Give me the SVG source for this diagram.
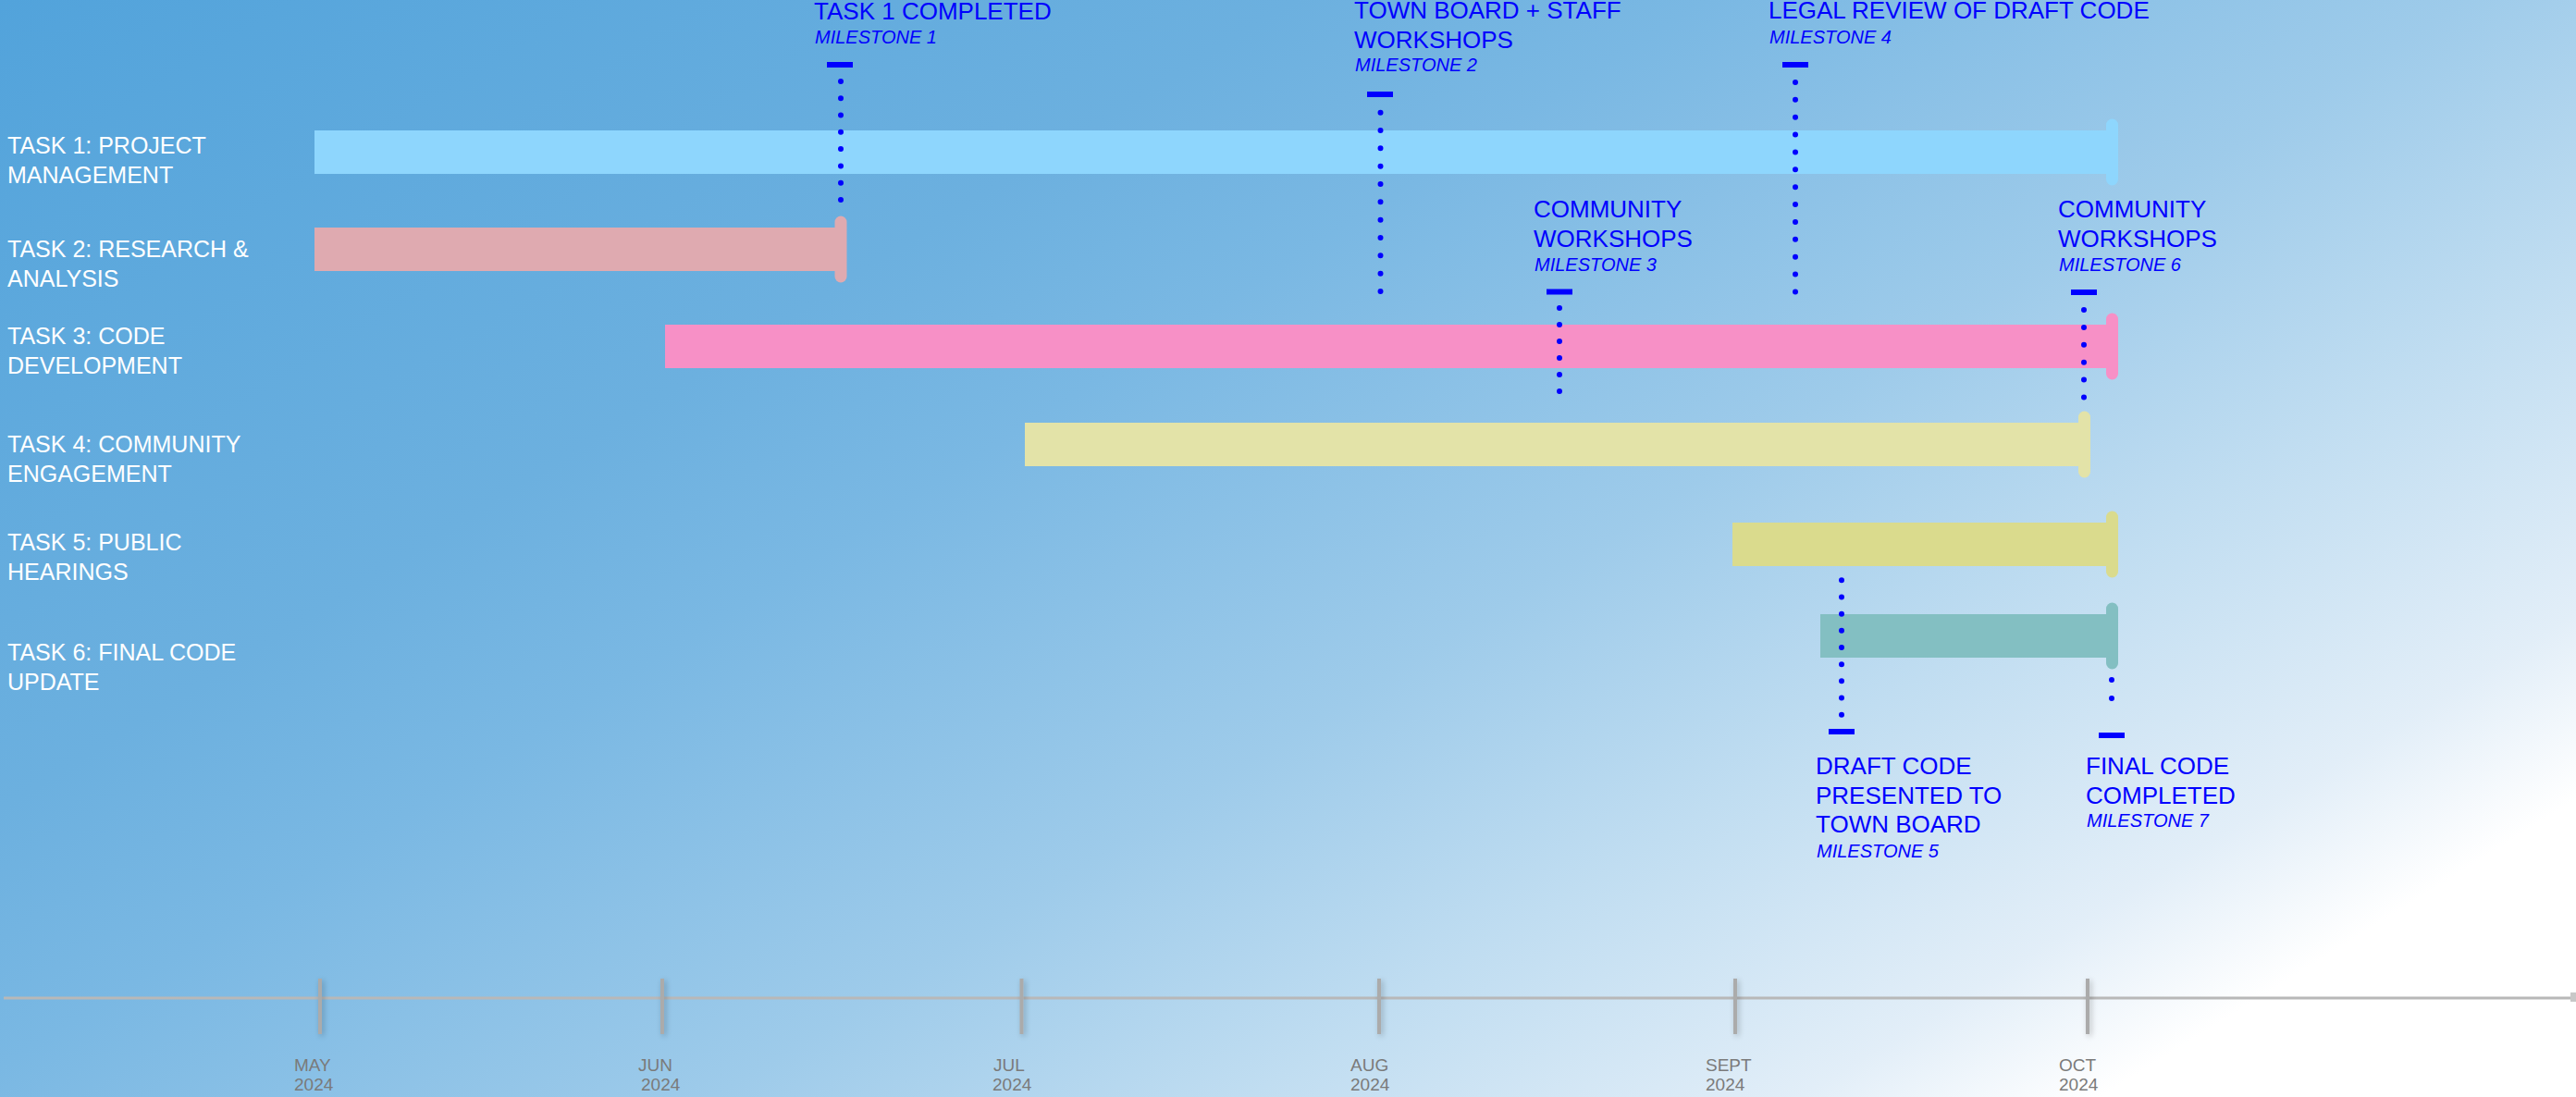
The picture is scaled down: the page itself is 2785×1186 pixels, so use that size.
<svg xmlns="http://www.w3.org/2000/svg" width="2785" height="1186" viewBox="0 0 2785 1186">
<defs>
<linearGradient id="bg" gradientUnits="userSpaceOnUse" x1="0" y1="0" x2="1315" y2="2105">
<stop offset="0" stop-color="#52a3db"/>
<stop offset="0.299" stop-color="#6cb0df"/>
<stop offset="0.394" stop-color="#7ab8e3"/>
<stop offset="0.57" stop-color="#9ecbea"/>
<stop offset="0.693" stop-color="#c0ddf1"/>
<stop offset="0.821" stop-color="#e2eef8"/>
<stop offset="0.89" stop-color="#ffffff"/>
<stop offset="1" stop-color="#ffffff"/>
</linearGradient>
<filter id="soft" x="-50%" y="-20%" width="200%" height="140%">
<feGaussianBlur in="SourceAlpha" stdDeviation="3"/>
<feOffset dx="2" dy="2" result="b"/>
<feComponentTransfer><feFuncA type="linear" slope="0.25"/></feComponentTransfer>
<feMerge><feMergeNode/><feMergeNode in="SourceGraphic"/></feMerge>
</filter>
</defs>
<style>
.lbl{font-family:"Liberation Sans",Arial,sans-serif;font-size:25px;fill:#ffffff}
.mt{font-family:"Liberation Sans",Arial,sans-serif;font-size:26px;fill:#0000ff}
.ms{font-family:"Liberation Sans",Arial,sans-serif;font-size:20px;font-style:italic;fill:#0000ff}
.ax{font-family:"Liberation Sans",Arial,sans-serif;font-size:19px;fill:#7a7a7a}
.dot{stroke:#0000ff;stroke-width:6;stroke-linecap:round;fill:none}
.dash{fill:#0000ff}
.tick{stroke:#ababab;stroke-width:4}
</style>
<rect x="0" y="0" width="2785" height="1186" fill="url(#bg)"/>

<g id="axis">
<line x1="4" y1="1079" x2="2780" y2="1079" stroke="#b8b8b8" stroke-width="3"/>
<rect x="2779" y="1073" width="6" height="10" fill="#c8c8c8"/>
<g filter="url(#soft)">
<line class="tick" x1="346" y1="1058" x2="346" y2="1118"/>
<line class="tick" x1="716" y1="1058" x2="716" y2="1118"/>
<line class="tick" x1="1104.5" y1="1058" x2="1104.5" y2="1118"/>
<line class="tick" x1="1491" y1="1058" x2="1491" y2="1118"/>
<line class="tick" x1="1876" y1="1058" x2="1876" y2="1118"/>
<line class="tick" x1="2257" y1="1058" x2="2257" y2="1118"/>
</g>
<text class="ax" x="318" y="1158">MAY</text><text class="ax" x="318" y="1179">2024</text>
<text class="ax" x="690" y="1158">JUN</text><text class="ax" x="693" y="1179">2024</text>
<text class="ax" x="1074" y="1158">JUL</text><text class="ax" x="1073" y="1179">2024</text>
<text class="ax" x="1460" y="1158">AUG</text><text class="ax" x="1460" y="1179">2024</text>
<text class="ax" x="1844" y="1158">SEPT</text><text class="ax" x="1844" y="1179">2024</text>
<text class="ax" x="2226" y="1158">OCT</text><text class="ax" x="2226" y="1179">2024</text>
</g>

<g id="task1">
<text class="lbl" x="8" y="166">TASK 1: PROJECT</text>
<text class="lbl" x="8" y="198">MANAGEMENT</text>
<rect x="340" y="141" width="1940" height="47" fill="#8ed6fd"/>
<rect x="2277" y="128.5" width="13" height="72" rx="6.5" fill="#8ed6fd"/>
</g>
<g id="task2">
<text class="lbl" x="8" y="278">TASK 2: RESEARCH &amp;</text>
<text class="lbl" x="8" y="310">ANALYSIS</text>
<rect x="340" y="246" width="566" height="47" fill="#dfaab0"/>
<rect x="902.5" y="233.5" width="13" height="72" rx="6.5" fill="#dfaab0"/>
</g>
<g id="task3">
<text class="lbl" x="8" y="372">TASK 3: CODE</text>
<text class="lbl" x="8" y="404">DEVELOPMENT</text>
<rect x="719" y="351" width="1561" height="47" fill="#f790c6"/>
<rect x="2277" y="338.5" width="13" height="72" rx="6.5" fill="#f790c6"/>
</g>
<g id="task4">
<text class="lbl" x="8" y="489">TASK 4: COMMUNITY</text>
<text class="lbl" x="8" y="521">ENGAGEMENT</text>
<rect x="1108" y="457" width="1142" height="47" fill="#e3e3a8"/>
<rect x="2247" y="444.5" width="13" height="72" rx="6.5" fill="#e3e3a8"/>
</g>
<g id="task5">
<text class="lbl" x="8" y="595">TASK 5: PUBLIC</text>
<text class="lbl" x="8" y="627">HEARINGS</text>
<rect x="1873" y="565" width="407" height="47" fill="#dadb8d"/>
<rect x="2277" y="552.5" width="13" height="72" rx="6.5" fill="#dadb8d"/>
</g>
<g id="task6">
<text class="lbl" x="8" y="714">TASK 6: FINAL CODE</text>
<text class="lbl" x="8" y="746">UPDATE</text>
<rect x="1968" y="664" width="312" height="47" fill="#83bfc2"/>
<rect x="2277" y="651.5" width="13" height="72" rx="6.5" fill="#83bfc2"/>
</g>

<g id="connectors">
<line class="dot" x1="909" y1="88" x2="909" y2="216" stroke-dasharray="0 18.28"/>
<line class="dot" x1="1492.5" y1="121.7" x2="1492.5" y2="334.3" stroke-dasharray="0 19.33"/>
<line class="dot" x1="1941" y1="89" x2="1941" y2="334.3" stroke-dasharray="0 18.87"/>
<line class="dot" x1="1686" y1="333" x2="1686" y2="441" stroke-dasharray="0 18"/>
<line class="dot" x1="2253" y1="335" x2="2253" y2="429.5" stroke-dasharray="0 18.9"/>
<line class="dot" x1="1991" y1="627.3" x2="1991" y2="772.7" stroke-dasharray="0 18.17"/>
<line class="dot" x1="2283" y1="735" x2="2283" y2="775" stroke-dasharray="0 20"/>
</g>

<g id="m1">
<text class="mt" x="880" y="21">TASK 1 COMPLETED</text>
<text class="ms" x="881" y="47">MILESTONE 1</text>
<rect class="dash" x="894" y="67" width="28" height="6"/>
</g>
<g id="m2">
<text class="mt" x="1464" y="20">TOWN BOARD + STAFF</text>
<text class="mt" x="1464" y="52">WORKSHOPS</text>
<text class="ms" x="1465" y="77">MILESTONE 2</text>
<rect class="dash" x="1478" y="99" width="28" height="6"/>
</g>
<g id="m4">
<text class="mt" x="1912" y="20">LEGAL REVIEW OF DRAFT CODE</text>
<text class="ms" x="1913" y="47">MILESTONE 4</text>
<rect class="dash" x="1927" y="67" width="28" height="6"/>
</g>
<g id="m3">
<text class="mt" x="1658" y="235">COMMUNITY</text>
<text class="mt" x="1658" y="267">WORKSHOPS</text>
<text class="ms" x="1659" y="293">MILESTONE 3</text>
<rect class="dash" x="1672" y="312.5" width="28" height="6"/>
</g>
<g id="m6">
<text class="mt" x="2225" y="235">COMMUNITY</text>
<text class="mt" x="2225" y="267">WORKSHOPS</text>
<text class="ms" x="2226" y="293">MILESTONE 6</text>
<rect class="dash" x="2239" y="313" width="28" height="6"/>
</g>
<g id="m5">
<rect class="dash" x="1977" y="788" width="28" height="6"/>
<text class="mt" x="1963" y="837">DRAFT CODE</text>
<text class="mt" x="1963" y="869">PRESENTED TO</text>
<text class="mt" x="1963" y="900">TOWN BOARD</text>
<text class="ms" x="1964" y="927">MILESTONE 5</text>
</g>
<g id="m7">
<rect class="dash" x="2269" y="792" width="28" height="6"/>
<text class="mt" x="2255" y="837">FINAL CODE</text>
<text class="mt" x="2255" y="869">COMPLETED</text>
<text class="ms" x="2256" y="894">MILESTONE 7</text>
</g>
</svg>
